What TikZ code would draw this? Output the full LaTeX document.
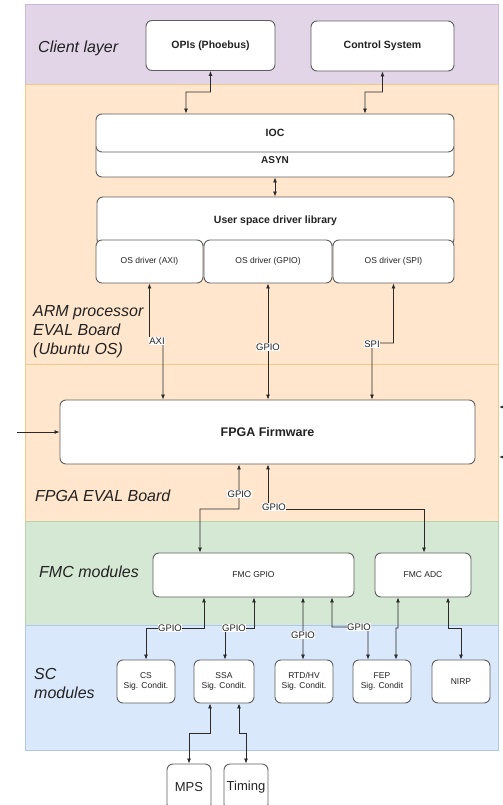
\documentclass[tikz,border=0pt]{standalone}
\usepackage{fontspec}
\setmainfont{Liberation Sans}
\usetikzlibrary{arrows.meta}
\definecolor{purfill}{HTML}{E1D5E7}
\definecolor{purline}{HTML}{CDB8DC}
\definecolor{orfill}{HTML}{FFE6CC}
\definecolor{orline}{HTML}{F2C98C}
\definecolor{grfill}{HTML}{D5E8D4}
\definecolor{grline}{HTML}{B6D3AC}
\definecolor{blfill}{HTML}{DAE8FC}
\definecolor{blline}{HTML}{AFC7EC}
\definecolor{boxgray}{HTML}{5E5E5E}
\definecolor{linegray}{HTML}{2A2A2A}
\definecolor{txt}{HTML}{222222}
\tikzset{
  box/.style={draw=boxgray, fill=white, rounded corners=6bp, line width=0.9bp,
    inner sep=0pt, text=txt, align=center},
  bfont/.style={font=\fontsize{10.5bp}{12bp}\selectfont\bfseries},
  sfont/.style={font=\fontsize{8.5bp}{10.5bp}\selectfont},
  lnk/.style={draw=linegray, line width=0.8bp,
    {Latex[length=5bp,width=4bp]}-{Latex[length=5bp,width=4bp]}},
  onearrow/.style={draw=linegray, line width=0.8bp, -{Latex[length=5bp,width=4bp]}},
  lbl/.style={fill=white, inner sep=0.6bp, text=txt,
    font=\fontsize{9.5bp}{11bp}\selectfont},
  layer/.style={anchor=west, align=left, text=txt, inner sep=0pt,
    font=\fontsize{16bp}{19bp}\selectfont\itshape},
}
\begin{document}
\begin{tikzpicture}[x=1bp,y=-1bp]
\useasboundingbox (0,0) rectangle (503,805);
% layer bands
\filldraw[fill=purfill, draw=purline, line width=1bp] (25,5) rectangle (498,84);
\filldraw[fill=orfill, draw=orline, line width=1bp] (25,84) rectangle (498,364);
\filldraw[fill=orfill, draw=orline, line width=1bp] (25,364) rectangle (498,521);
\filldraw[fill=grfill, draw=grline, line width=1bp] (25,521) rectangle (498,625);
\filldraw[fill=blfill, draw=blline, line width=1bp] (25,625) rectangle (498,750);

% layer labels
\node[layer] (lclient) at (38,48) {Client layer};
\node[layer] (larm) at (33,332) {ARM processor\\EVAL Board\\(Ubuntu OS)};
\node[layer] (lfpga) at (35,496) {FPGA EVAL Board};
\node[layer] (lfmc) at (39,572) {FMC modules};
\node[layer] (lsc) at (34,683) {SC\\modules};

% client layer
\node[box, bfont, minimum width=129bp, minimum height=50bp] (opi) at (210.5,45.5) {OPIs (Phoebus)};
\node[box, bfont, minimum width=143bp, minimum height=50bp] (csys) at (382.5,46) {Control System};

% ARM
\node[box, font=\fontsize{10bp}{12bp}\selectfont\bfseries, minimum width=358bp, minimum height=34bp] (asyn) at (275,160) {ASYN};
\node[box, bfont, minimum width=358bp, minimum height=38bp] (ioc) at (275,133) {IOC};
\node[box, bfont, minimum width=357bp, minimum height=48bp] (usd) at (275.5,221) {User space driver library};
\node[box, sfont, minimum width=107bp, minimum height=43bp] (osaxi) at (149.5,261.5) {OS driver (AXI)};
\node[box, sfont, minimum width=128bp, minimum height=43bp] (osgpio) at (268,261.5) {OS driver (GPIO)};
\node[box, sfont, minimum width=121bp, minimum height=43bp] (osspi) at (393.5,261.5) {OS driver (SPI)};

% FPGA
\node[box, font=\fontsize{12.5bp}{14bp}\selectfont\bfseries, minimum width=415bp, minimum height=64bp] (fpga) at (267.5,432) {FPGA Firmware};

% FMC
\node[box, sfont, minimum width=201bp, minimum height=44bp] (fmcgpio) at (253.5,575) {FMC GPIO};
\node[box, sfont, minimum width=96bp, minimum height=44bp] (fmcadc) at (423,575) {FMC ADC};

% SC
\node[box, sfont, minimum width=58bp, minimum height=43bp] (cssc) at (146,681.5) {CS\\Sig. Condit.};
\node[box, sfont, minimum width=60bp, minimum height=43bp] (ssa) at (224,681.5) {SSA\\Sig. Condit.};
\node[box, sfont, minimum width=58bp, minimum height=43bp] (rtd) at (304,681.5) {RTD/HV\\Sig. Condit.};
\node[box, sfont, minimum width=58bp, minimum height=43bp] (fep) at (382,681.5) {FEP\\Sig. Condit};
\node[box, sfont, minimum width=58bp, minimum height=43bp] (nirp) at (461,681.5) {NIRP};

% outside
\node[box, font=\fontsize{13bp}{15bp}\selectfont, minimum width=44bp, minimum height=46bp] (mps) at (189,787) {MPS};
\node[box, font=\fontsize{13bp}{15bp}\selectfont, minimum width=44bp, minimum height=46bp] (timing) at (246,787) {Timing};

% connectors client <-> IOC
\draw[lnk] (opi.south) |- (186,92) -- ([xshift=-89bp]ioc.north);
\draw[lnk] (csys.south) |- (365,92) -- ([xshift=90bp]ioc.north);
\draw[lnk] (asyn.south) -- (asyn.south |- usd.north);

% OS drivers <-> FPGA
\draw[lnk] (osaxi.south) |- (163,341) -- ([xshift=-104.5bp]fpga.north);
\node[lbl] (laxi) at (157,341) {AXI};
\draw[lnk] (osgpio.south) -- (osgpio.south |- fpga.north);
\node[lbl] (lgpio1) at (268,347) {GPIO};
\draw[lnk] (osspi.south) |- (372,343) -- ([xshift=104.5bp]fpga.north);
\node[lbl] (lspi) at (372,344) {SPI};

% external inputs
\coordinate (lin) at (17,432);
\draw[onearrow] (lin) -- (fpga.west);
\coordinate (rin1) at (515,407);
\coordinate (rend1) at (499,407);
\draw[onearrow] (rin1) -- (rend1);
\coordinate (rin2) at (515,457);
\coordinate (rend2) at (499,457);
\draw[onearrow] (rin2) -- (rend2);

% FPGA <-> FMC
\draw[lnk] ([xshift=-28.5bp]fpga.south) |- (200,509) -- ([xshift=-53.5bp]fmcgpio.north);
\node[lbl] (lgpio2) at (239.5,494) {GPIO};
\draw[lnk] ([xshift=0.5bp]fpga.south) |- (424,509) -- ([xshift=1bp]fmcadc.north);
\node[lbl] (lgpio3) at (274,507) {GPIO};

% FMC <-> SC
\draw[lnk] ([xshift=-49.5bp]fmcgpio.south) |- (146,628) -- (cssc.north);
\node[lbl] (lgpio4) at (170,628) {GPIO};
\draw[lnk] ([xshift=0.5bp]fmcgpio.south) |- (225,628) -- ([xshift=1bp]ssa.north);
\node[lbl] (lgpio5) at (234,628) {GPIO};
\draw[lnk] ([xshift=49.5bp]fmcgpio.south) -- ([xshift=-1bp]rtd.north);
\node[lbl] (lgpio6) at (303,635) {GPIO};
\draw[lnk] ([xshift=78.5bp]fmcgpio.south) |- (368,627) -- ([xshift=-14bp]fep.north);
\node[lbl] (lgpio7) at (359,627) {GPIO};
\draw[lnk] ([xshift=-25bp]fmcadc.south) |- (396,628) -- ([xshift=14bp]fep.north);
\draw[lnk] ([xshift=25bp]fmcadc.south) |- (461,628) -- (nirp.north);

% SSA <-> MPS / Timing
\draw[lnk] ([xshift=-14bp]ssa.south) |- (189,733) -- (mps.north);
\draw[lnk] ([xshift=15bp]ssa.south) |- (246,733) -- (timing.north);
\end{tikzpicture}
\end{document}
